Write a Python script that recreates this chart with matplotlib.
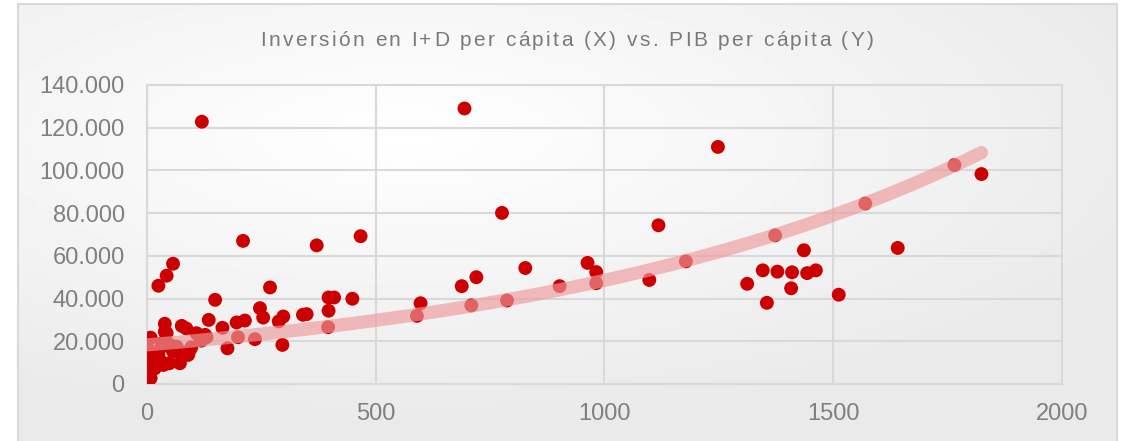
import numpy as np
import matplotlib.pyplot as plt
from matplotlib.patches import Rectangle
from matplotlib.font_manager import FontProperties

# datos: I+D per capita (x) y PIB per capita (y)
id_pc = [120, 694, 1248, 1824, 1765, 1570, 776, 1118, 1373, 467,
         210, 371, 1641, 1436, 57, 963, 982, 827, 1178, 43,
         720, 25, 269, 688, 902, 1098, 982, 1346, 1378, 1410,
         1443, 1462, 1312, 1408, 1355, 1512, 787, 709, 598, 590,
         397, 409, 449, 397, 341, 349, 396, 149, 247, 254,
         135, 39, 76, 86, 165, 196, 214, 288, 298, 199,
         108, 116, 130, 119, 236, 176, 296, 8, 39, 3,
         7, 7, 7, 8, 25, 32, 50, 65, 72, 57,
         94, 97, 36, 49, 72, 90, 17, 28, 43, 112,
         127, 32, 14]
pib_pc = [122800, 129000, 111000, 98300, 102500, 84500, 80100, 74300, 69600, 69200,
          67000, 64900, 63700, 62600, 56300, 56700, 52400, 54300, 57400, 50700,
          50000, 46000, 45200, 45800, 45800, 48700, 47200, 53200, 52600, 52300,
          51900, 53200, 46900, 44800, 38000, 41800, 39100, 36800, 37800, 31900,
          40500, 40500, 39900, 34300, 32400, 32700, 26600, 39400, 35500, 31100,
          30000, 28200, 27200, 26000, 26300, 28800, 29700, 29300, 31600, 21900,
          23800, 21900, 21900, 20300, 21000, 16700, 18300, 21700, 24500, 16300,
          12800, 8900, 5000, 2700, 14400, 17500, 18300, 17500, 15200, 15200,
          16000, 17200, 8900, 9700, 9700, 13600, 7300, 11300, 23800, 23000,
          23000, 19100, 13600]

# linea de tendencia exponencial y = a*exp(b*x), coeficientes
trend_a = 18300
trend_b = 0.000975

titulo = 'Inversión en I+D per cápita (X) vs. PIB per cápita (Y)'

x = np.array(id_pc, dtype=float)
y = np.array(pib_pc, dtype=float)
xt = np.linspace(x.min(), x.max(), 200)
yt = trend_a * np.exp(trend_b * xt)

gris = '#808080'

fig = plt.figure(figsize=(11.27, 4.41), dpi=100)
fig.patch.set_facecolor('white')

# fondo con degradado
bg = fig.add_axes([0, 0, 1, 1], zorder=-10)
gx, gy = np.meshgrid(np.linspace(0, 1, 300), np.linspace(0, 1, 120))
d = np.sqrt(((gx - 0.35) / 1.0) ** 2 + ((gy - 0.3) / 0.9) ** 2)
img = 1.0 - 0.085 * np.clip(d / 0.75, 0, 1)
bg.imshow(img, cmap='gray', vmin=0, vmax=1, extent=[0.016, 0.991, 0, 0.991],
          aspect='auto', origin='upper')
bg.add_patch(Rectangle((0.016, -0.01), 0.975, 1.0, fill=False,
                       edgecolor='#d9d9d9', lw=1.5))
bg.set_xlim(0, 1)
bg.set_ylim(0, 1)
bg.axis('off')

ax = fig.add_axes([0.1304, 0.1293, 0.8119, 0.678])
ax.set_facecolor('none')

ax.scatter(x, y, s=100, color='#cc0000', edgecolors='none', zorder=3)
ax.plot(xt, yt, color='#ee9a9a', alpha=0.65, lw=9.5, solid_capstyle='round', zorder=4)

ax.set_xlim(0, 2000)
ax.set_ylim(0, 140000)
ax.set_xticks([0, 500, 1000, 1500, 2000])
ax.set_yticks(np.arange(0, 140001, 20000))
ax.set_yticklabels(['0' if v == 0 else f'{v:,}'.replace(',', '.') for v in range(0, 140001, 20000)])

ax.grid(True, color='#d9d9d9', lw=1.5, zorder=0)
for s in ax.spines.values():
    s.set_color('#d9d9d9')
    s.set_linewidth(1.5)
ax.tick_params(length=0, labelsize=17, labelcolor=gris)
ax.tick_params(axis='y', pad=16)
ax.tick_params(axis='x', pad=14)
for lab in ax.get_xticklabels() + ax.get_yticklabels():
    lab.set_family('Liberation Sans')

# titulo con espaciado entre letras
fp = FontProperties(family='Liberation Sans', size=15)
track = 2.4  # px extra por caracter
r = fig.canvas.get_renderer()
adv = []
for c in titulo:
    t = fig.text(0, 0, c, fontproperties=fp)
    w = t.get_window_extent(r).width
    if c == ' ':
        w = fp.get_size() * 0.278 * 100 / 72
    adv.append(w)
    t.remove()
total = sum(adv) + track * (len(titulo) - 1)
xpos = 567 - total / 2
for c, w in zip(titulo, adv):
    fig.text(xpos / 1127, 1 - 41 / 441, c, fontproperties=fp, color='#7a7a7a',
             ha='left', va='center')
    xpos += w + track

fig.savefig('out.png', dpi=100)
